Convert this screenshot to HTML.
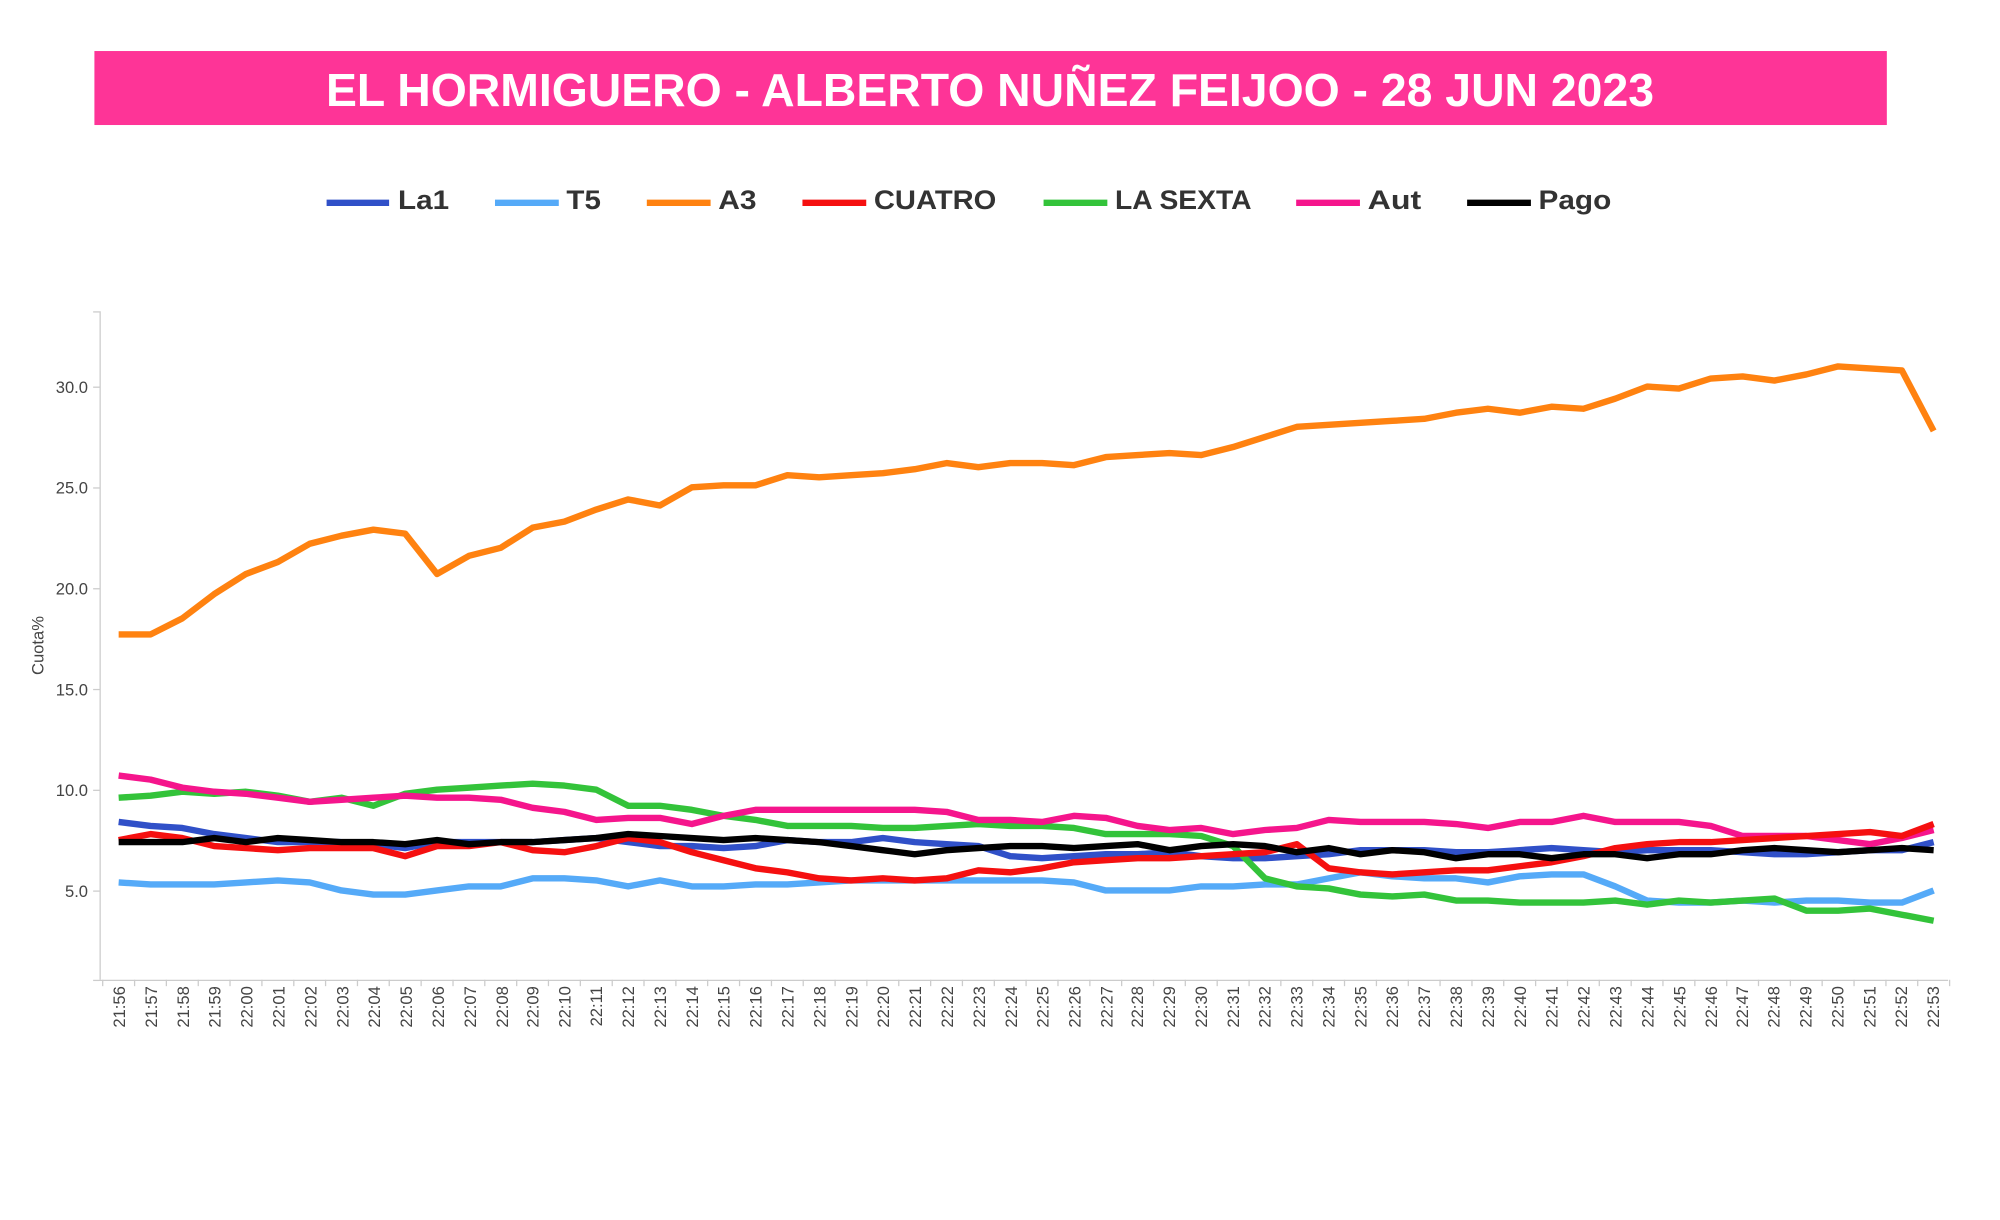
<!DOCTYPE html>
<html><head><meta charset="utf-8"><style>
html,body{margin:0;padding:0;background:#fff;width:2000px;height:1220px;overflow:hidden}
svg{display:block}
</style></head><body>
<svg id="c" width="2000" height="1220" viewBox="0 0 1567.7 956.3" xmlns="http://www.w3.org/2000/svg" font-family="Liberation Sans, sans-serif">
<rect x="74" y="40" width="1405" height="58" fill="#fe3497"/>
<text x="776" y="83" text-anchor="middle" fill="#fff" font-weight="bold" font-size="36" textLength="1041" lengthAdjust="spacingAndGlyphs">EL HORMIGUERO - ALBERTO NUÑEZ FEIJOO - 28 JUN 2023</text>
<g font-weight="bold" font-size="21" fill="#333">
<line x1="256" y1="159" x2="305" y2="159" stroke="#3050c8" stroke-width="5"/><text x="312" y="164" textLength="40" lengthAdjust="spacingAndGlyphs">La1</text>
<line x1="388" y1="159" x2="438" y2="159" stroke="#55aaf8" stroke-width="5"/><text x="444" y="164" textLength="27" lengthAdjust="spacingAndGlyphs">T5</text>
<line x1="507" y1="159" x2="557" y2="159" stroke="#ff8210" stroke-width="5"/><text x="563" y="164" textLength="30" lengthAdjust="spacingAndGlyphs">A3</text>
<line x1="629" y1="159" x2="679" y2="159" stroke="#f51010" stroke-width="5"/><text x="685" y="164" textLength="96" lengthAdjust="spacingAndGlyphs">CUATRO</text>
<line x1="818" y1="159" x2="868" y2="159" stroke="#33c33a" stroke-width="5"/><text x="874" y="164" textLength="107" lengthAdjust="spacingAndGlyphs">LA SEXTA</text>
<line x1="1016" y1="159" x2="1066" y2="159" stroke="#f5158c" stroke-width="5"/><text x="1072" y="164" textLength="42" lengthAdjust="spacingAndGlyphs">Aut</text>
<line x1="1150" y1="159" x2="1200" y2="159" stroke="#000" stroke-width="5"/><text x="1206" y="164" textLength="57" lengthAdjust="spacingAndGlyphs">Pago</text>
</g>
<g stroke="#ccc" stroke-width="1" fill="none">
<line x1="78.5" y1="244" x2="78.5" y2="768"/>
<line x1="78" y1="768.5" x2="1527" y2="768.5"/>
<line x1="73" y1="244.5" x2="78" y2="244.5"/>
<line x1="73" y1="303.5" x2="78" y2="303.5"/>
<line x1="73" y1="382.5" x2="78" y2="382.5"/>
<line x1="73" y1="461.5" x2="78" y2="461.5"/>
<line x1="73" y1="540.5" x2="78" y2="540.5"/>
<line x1="73" y1="619.5" x2="78" y2="619.5"/>
<line x1="73" y1="698.5" x2="78" y2="698.5"/>
<line x1="73" y1="768.5" x2="78" y2="768.5"/>
</g>
<g id="xt" stroke="#ccc" stroke-width="1"></g>
<g font-size="13" fill="#444" text-anchor="end">
<text x="69" y="308">30.0</text>
<text x="69" y="387">25.0</text>
<text x="69" y="466">20.0</text>
<text x="69" y="545">15.0</text>
<text x="69" y="624">10.0</text>
<text x="69" y="703">5.0</text>
</g>
<text transform="translate(34,506) rotate(-90)" text-anchor="middle" font-size="13" fill="#444">Cuota%</text>
<g id="xl" font-size="13" fill="#444" text-anchor="end">
<text transform="translate(98,773) rotate(-90)">21:56</text>
<text transform="translate(123,773) rotate(-90)">21:57</text>
<text transform="translate(148,773) rotate(-90)">21:58</text>
<text transform="translate(173,773) rotate(-90)">21:59</text>
<text transform="translate(198,773) rotate(-90)">22:00</text>
<text transform="translate(223,773) rotate(-90)">22:01</text>
<text transform="translate(248,773) rotate(-90)">22:02</text>
<text transform="translate(273,773) rotate(-90)">22:03</text>
<text transform="translate(298,773) rotate(-90)">22:04</text>
<text transform="translate(323,773) rotate(-90)">22:05</text>
<text transform="translate(348,773) rotate(-90)">22:06</text>
<text transform="translate(373,773) rotate(-90)">22:07</text>
<text transform="translate(398,773) rotate(-90)">22:08</text>
<text transform="translate(422,773) rotate(-90)">22:09</text>
<text transform="translate(447,773) rotate(-90)">22:10</text>
<text transform="translate(472,773) rotate(-90)">22:11</text>
<text transform="translate(497,773) rotate(-90)">22:12</text>
<text transform="translate(522,773) rotate(-90)">22:13</text>
<text transform="translate(547,773) rotate(-90)">22:14</text>
<text transform="translate(572,773) rotate(-90)">22:15</text>
<text transform="translate(597,773) rotate(-90)">22:16</text>
<text transform="translate(622,773) rotate(-90)">22:17</text>
<text transform="translate(647,773) rotate(-90)">22:18</text>
<text transform="translate(672,773) rotate(-90)">22:19</text>
<text transform="translate(697,773) rotate(-90)">22:20</text>
<text transform="translate(722,773) rotate(-90)">22:21</text>
<text transform="translate(747,773) rotate(-90)">22:22</text>
<text transform="translate(772,773) rotate(-90)">22:23</text>
<text transform="translate(797,773) rotate(-90)">22:24</text>
<text transform="translate(822,773) rotate(-90)">22:25</text>
<text transform="translate(847,773) rotate(-90)">22:26</text>
<text transform="translate(872,773) rotate(-90)">22:27</text>
<text transform="translate(896,773) rotate(-90)">22:28</text>
<text transform="translate(921,773) rotate(-90)">22:29</text>
<text transform="translate(946,773) rotate(-90)">22:30</text>
<text transform="translate(971,773) rotate(-90)">22:31</text>
<text transform="translate(996,773) rotate(-90)">22:32</text>
<text transform="translate(1021,773) rotate(-90)">22:33</text>
<text transform="translate(1046,773) rotate(-90)">22:34</text>
<text transform="translate(1071,773) rotate(-90)">22:35</text>
<text transform="translate(1096,773) rotate(-90)">22:36</text>
<text transform="translate(1121,773) rotate(-90)">22:37</text>
<text transform="translate(1146,773) rotate(-90)">22:38</text>
<text transform="translate(1171,773) rotate(-90)">22:39</text>
<text transform="translate(1196,773) rotate(-90)">22:40</text>
<text transform="translate(1221,773) rotate(-90)">22:41</text>
<text transform="translate(1246,773) rotate(-90)">22:42</text>
<text transform="translate(1271,773) rotate(-90)">22:43</text>
<text transform="translate(1296,773) rotate(-90)">22:44</text>
<text transform="translate(1321,773) rotate(-90)">22:45</text>
<text transform="translate(1346,773) rotate(-90)">22:46</text>
<text transform="translate(1370,773) rotate(-90)">22:47</text>
<text transform="translate(1395,773) rotate(-90)">22:48</text>
<text transform="translate(1420,773) rotate(-90)">22:49</text>
<text transform="translate(1445,773) rotate(-90)">22:50</text>
<text transform="translate(1470,773) rotate(-90)">22:51</text>
<text transform="translate(1495,773) rotate(-90)">22:52</text>
<text transform="translate(1520,773) rotate(-90)">22:53</text>
</g>
<g id="lines" fill="none" stroke-width="5" stroke-linejoin="round"></g>
</svg>
<script>
var S=[
["#55aaf8",[5.4,5.3,5.3,5.3,5.4,5.5,5.4,5.0,4.8,4.8,5.0,5.2,5.2,5.6,5.6,5.5,5.2,5.5,5.2,5.2,5.3,5.3,5.4,5.5,5.5,5.5,5.5,5.5,5.5,5.5,5.4,5.0,5.0,5.0,5.2,5.2,5.3,5.3,5.6,5.9,5.7,5.6,5.6,5.4,5.7,5.8,5.8,5.2,4.5,4.4,4.4,4.5,4.4,4.5,4.5,4.4,4.4,5.0]],
["#3050c8",[8.4,8.2,8.1,7.8,7.6,7.4,7.4,7.4,7.3,7.1,7.4,7.4,7.4,7.4,7.5,7.6,7.4,7.2,7.2,7.1,7.2,7.5,7.4,7.4,7.6,7.4,7.3,7.2,6.7,6.6,6.7,6.8,6.8,6.9,6.7,6.6,6.6,6.7,6.8,7.0,7.0,7.0,6.9,6.9,7.0,7.1,7.0,6.9,7.0,7.0,7.0,6.9,6.8,6.8,6.9,7.0,7.0,7.4]],
["#33c33a",[9.6,9.7,9.9,9.8,9.9,9.7,9.4,9.6,9.2,9.8,10.0,10.1,10.2,10.3,10.2,10.0,9.2,9.2,9.0,8.7,8.5,8.2,8.2,8.2,8.1,8.1,8.2,8.3,8.2,8.2,8.1,7.8,7.8,7.8,7.7,7.2,5.6,5.2,5.1,4.8,4.7,4.8,4.5,4.5,4.4,4.4,4.4,4.5,4.3,4.5,4.4,4.5,4.6,4.0,4.0,4.1,3.8,3.5]],
["#f5158c",[10.7,10.5,10.1,9.9,9.8,9.6,9.4,9.5,9.6,9.7,9.6,9.6,9.5,9.1,8.9,8.5,8.6,8.6,8.3,8.7,9.0,9.0,9.0,9.0,9.0,9.0,8.9,8.5,8.5,8.4,8.7,8.6,8.2,8.0,8.1,7.8,8.0,8.1,8.5,8.4,8.4,8.4,8.3,8.1,8.4,8.4,8.7,8.4,8.4,8.4,8.2,7.7,7.7,7.7,7.5,7.3,7.6,8.0]],
["#f51010",[7.5,7.8,7.6,7.2,7.1,7.0,7.1,7.1,7.1,6.7,7.2,7.2,7.4,7.0,6.9,7.2,7.6,7.4,6.9,6.5,6.1,5.9,5.6,5.5,5.6,5.5,5.6,6.0,5.9,6.1,6.4,6.5,6.6,6.6,6.7,6.8,6.9,7.3,6.1,5.9,5.8,5.9,6.0,6.0,6.2,6.4,6.7,7.1,7.3,7.4,7.4,7.5,7.6,7.7,7.8,7.9,7.7,8.3]],
["#000000",[7.4,7.4,7.4,7.6,7.4,7.6,7.5,7.4,7.4,7.3,7.5,7.3,7.4,7.4,7.5,7.6,7.8,7.7,7.6,7.5,7.6,7.5,7.4,7.2,7.0,6.8,7.0,7.1,7.2,7.2,7.1,7.2,7.3,7.0,7.2,7.3,7.2,6.9,7.1,6.8,7.0,6.9,6.6,6.8,6.8,6.6,6.8,6.8,6.6,6.8,6.8,7.0,7.1,7.0,6.9,7.0,7.1,7.0]],
["#ff8210",[17.7,17.7,18.5,19.7,20.7,21.3,22.2,22.6,22.9,22.7,20.7,21.6,22.0,23.0,23.3,23.9,24.4,24.1,25.0,25.1,25.1,25.6,25.5,25.6,25.7,25.9,26.2,26.0,26.2,26.2,26.1,26.5,26.6,26.7,26.6,27.0,27.5,28.0,28.1,28.2,28.3,28.4,28.7,28.9,28.7,29.0,28.9,29.4,30.0,29.9,30.4,30.5,30.3,30.6,31.0,30.9,30.8,27.8]]
];
var ns="http://www.w3.org/2000/svg",g=document.getElementById("lines");
S.forEach(function(s){var p=document.createElementNS(ns,"polyline");
p.setAttribute("points",s[1].map(function(v,i){return (93+i*24.96).toFixed(1)+","+(777-15.8*v).toFixed(1)}).join(" "));
p.setAttribute("stroke",s[0]);g.appendChild(p);});
var t=document.getElementById("xt");
for(var i=0;i<=58;i++){var l=document.createElementNS(ns,"line");var x=(80.5+i*24.96).toFixed(1);
l.setAttribute("x1",x);l.setAttribute("x2",x);l.setAttribute("y1",768);l.setAttribute("y2",773);t.appendChild(l);}
</script>
</body></html>
